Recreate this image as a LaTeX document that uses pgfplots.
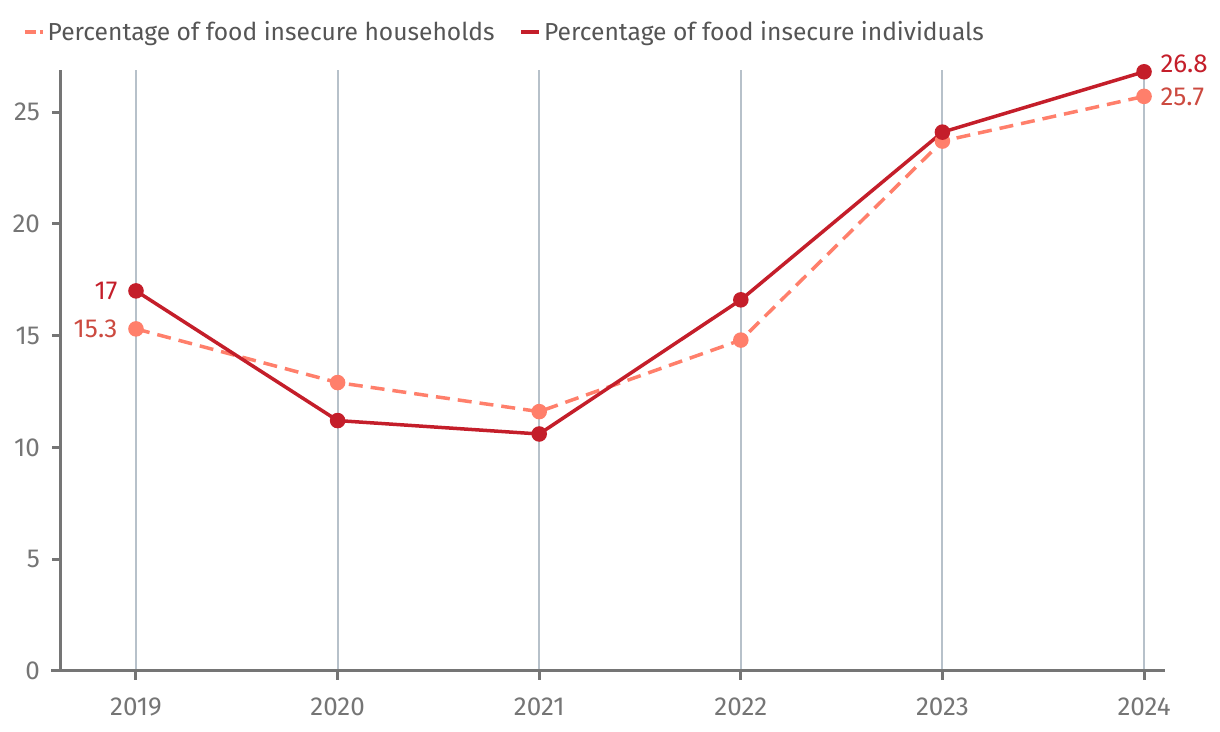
\documentclass[border=0pt]{standalone}
\usepackage{pgfplots}
\pgfplotsset{compat=1.18}
\usepackage{fontspec}
\setmainfont{Fira Sans}

\definecolor{indiv}{HTML}{C41E2A}
\definecolor{house}{HTML}{FF7F6B}
\definecolor{houselbl}{HTML}{CC4A40}
\definecolor{axisgray}{HTML}{757575}
\definecolor{gridgray}{HTML}{B7C1CA}
\definecolor{txtgray}{HTML}{555555}

\newcommand{\numfont}{\fontsize{13}{15}\selectfont}

\begin{document}
\begin{tikzpicture}
\begin{axis}[
  scale only axis,
  width=552pt, height=300.5pt,
  xmin=2018.628, xmax=2024.104,
  ymin=0, ymax=26.88,
  axis lines=left,
  axis line style={-, axisgray, line width=1.5pt},
  x axis line style={shorten <=-5pt},
  xtick={2019,2020,2021,2022,2023,2024},
  ytick={0,5,10,15,20,25},
  xticklabel style={/pgf/number format/1000 sep={}},
  /pgf/number format/assume math mode=true,
  tick align=outside,
  major tick length=4.5pt,
  tick style={axisgray, line width=1.5pt},
  xmajorgrids,
  grid style={gridgray, line width=1pt},
  ticklabel style={font=\numfont, text=axisgray},
  xticklabel style={yshift=-5.5pt},
  yticklabel style={xshift=-2.5pt},
  clip=false,
  legend columns=2,
  legend style={at={(-0.04,1.063)}, anchor=west, draw=none, fill=none,
    font=\fontsize{12.3}{14}\selectfont, text=txtgray,
    nodes={inner xsep=1.5pt},
    /tikz/every even column/.append style={column sep=11pt}},
  legend cell align=left,
  legend image code/.code={\draw[#1] (0pt,0pt) -- (9pt,0pt);},
]
\addplot[house, line width=1.75pt, dash pattern=on 7pt off 4pt,
  mark=*, mark size=3pt, mark options={solid, fill=house, draw=house},
  legend image post style={dash pattern=on 5.5pt off 2pt}]
  coordinates {(2019,15.3) (2020,12.9) (2021,11.6) (2022,14.8) (2023,23.7) (2024,25.7)};
\addlegendentry{Percentage of food insecure households}
\addplot[indiv, line width=1.75pt,
  mark=*, mark size=3pt, mark options={fill=indiv, draw=indiv}]
  coordinates {(2019,17.0) (2020,11.2) (2021,10.6) (2022,16.6) (2023,24.1) (2024,26.8)};
\addlegendentry{Percentage of food insecure individuals}

\node[anchor=east, text=indiv, font=\numfont, inner sep=0pt] at (axis cs:2018.91,17.0) {17};
\node[anchor=east, text=houselbl, font=\numfont, inner sep=0pt] at (axis cs:2018.91,15.3) {15.3};
\node[anchor=west, text=indiv, font=\numfont, inner sep=0pt] at (axis cs:2024.08,27.15) {26.8};
\node[anchor=west, text=houselbl, font=\numfont, inner sep=0pt] at (axis cs:2024.08,25.7) {25.7};
\end{axis}
\pgfresetboundingbox
\path[use as bounding box] (-30.5pt,-30.5pt) rectangle (579.5pt,335.5pt);
\end{tikzpicture}
\end{document}
